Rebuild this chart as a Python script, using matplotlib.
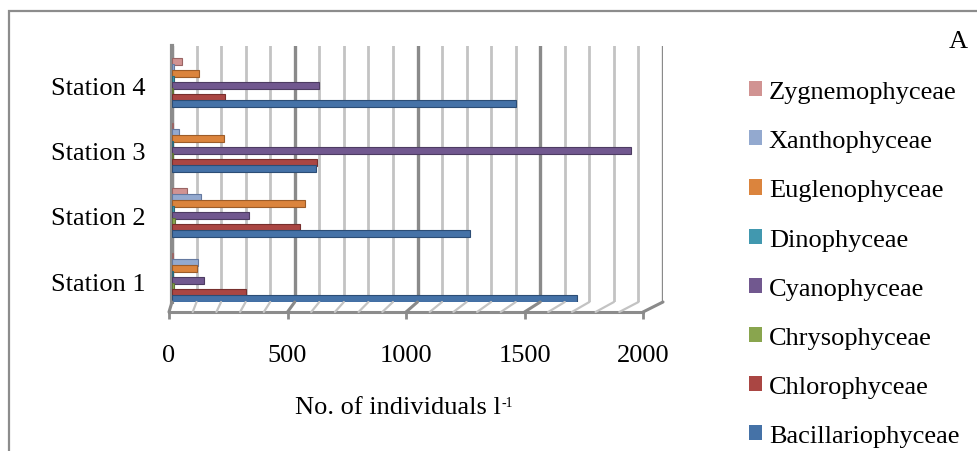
import numpy as np
import matplotlib
matplotlib.use('Agg')
import matplotlib.pyplot as plt
from matplotlib.patches import Patch, Rectangle, ConnectionPatch

plt.rcParams['font.family'] = ['Liberation Serif', 'DejaVu Serif']

stations = ['Station 1', 'Station 2', 'Station 3', 'Station 4']
groups = ['Bacillariophyceae', 'Chlorophyceae', 'Chrysophyceae', 'Cyanophyceae',
          'Dinophyceae', 'Euglenophyceae', 'Xanthophyceae', 'Zygnemophyceae']
colors = ['#4572A7', '#AA4643', '#89A54E', '#71588F',
          '#4198AF', '#DB843D', '#93A9CF', '#D19392']
edges = ['#2c4d75', '#772f2d', '#5f7436', '#4d3c62', '#2c6a7a', '#9c5c29', '#6479a0', '#9a6564']

# values per group, Station 1..4 (No. of individuals per litre)
bacillario = [1650, 1215, 585, 1400]
chloro = [300, 520, 590, 215]
chryso = [8, 12, 5, 5]
cyano = [130, 315, 1870, 600]
dino = [5, 8, 5, 10]
eugleno = [100, 540, 210, 110]
xantho = [105, 120, 30, 10]
zygnemo = [3, 60, 5, 40]
values = [bacillario, chloro, chryso, cyano, dino, eugleno, xantho, zygnemo]

W, H = 977, 452
FS = 19
fig = plt.figure(figsize=(W / 100, H / 100), dpi=100)

# outer chart border
fig.patches.append(Rectangle((9 / W, -0.1), 1.2, 1 - 12 / H + 0.1, transform=fig.transFigure,
                             fill=False, edgecolor='#8c8c8c', lw=1.6))

# back wall (bars + gridlines)
ax = fig.add_axes([172 / W, (H - 303) / H, 491 / W, 256 / H])
ax.set_xlim(0, 2000)
ax.set_ylim(-0.323, 3.615)
ax.set_xticks(np.arange(0, 2001, 500))
ax.set_xticks(np.arange(0, 2001, 100), minor=True)
ax.grid(True, which='minor', axis='x', color='#c3c3c3', lw=2.0, zorder=0)
ax.grid(True, which='major', axis='x', color='#8a8a8a', lw=2.4, zorder=0)
ax.tick_params(axis='x', which='both', length=0, labelbottom=False)
ax.set_yticks(range(len(stations)))
ax.set_yticklabels(stations, fontsize=FS)
ax.tick_params(axis='y', length=0, pad=19)
for s in ['top', 'right', 'bottom']:
    ax.spines[s].set_visible(False)
ax.spines['left'].set_color('#8c8c8c')
ax.spines['left'].set_linewidth(3)
ax.set_axisbelow(True)

pitch = 0.092
bh = 0.12
y0 = np.arange(len(stations)) + 0.054
for j, (g, vals) in enumerate(zip(groups, values)):
    ax.barh(y0 + (j - 3.5) * pitch, vals, height=bh, color=colors[j],
            edgecolor=edges[j], lw=0.8, zorder=10 - j)

# front floor edge with tick labels
ax2 = fig.add_axes([169 / W, (H - 313) / H, 474 / W, 0.001])
ax2.set_xlim(0, 2000)
ax2.set_xticks(np.arange(0, 2001, 500))
ax2.tick_params(axis='x', length=5, width=2, color='#8c8c8c', labelsize=FS, pad=18)
ax2.set_yticks([])
ax2.patch.set_alpha(0)
for s in ['top', 'right', 'left']:
    ax2.spines[s].set_visible(False)
ax2.spines['bottom'].set_color('#8c8c8c')
ax2.spines['bottom'].set_linewidth(2.2)

# floor lines from front edge back to the wall
for v in np.arange(0, 2001, 100):
    major = v % 500 == 0
    cp = ConnectionPatch(xyA=(v, 0), coordsA=ax2.transData,
                         xyB=(v, -0.323), coordsB=ax.transData,
                         color='#8a8a8a' if major or v == 2000 else '#c3c3c3',
                         lw=2.2 if major else 1.6)
    fig.add_artist(cp)

xl = fig.text(398 / W, 1 - 408 / H, 'No. of individuals l', fontsize=FS,
              ha='center', va='center')
ax.annotate('-1', xy=(1, 1), xycoords=xl, xytext=(0.5, 0), textcoords='offset points',
            fontsize=FS * 0.52, ha='left', va='top', annotation_clip=False)
fig.text(958 / W, 1 - 42 / H, 'A', fontsize=FS, ha='center', va='center')

handles = [Patch(facecolor=c, edgecolor='none') for c in colors][::-1]
fig.legend(handles, groups[::-1], loc='upper left', bbox_to_anchor=(749 / W, 1 - 82 / H),
           frameon=False, fontsize=FS, handlelength=0.5, handleheight=0.5,
           handletextpad=0.25, labelspacing=1.03, borderaxespad=0, borderpad=0)

fig.savefig('out.png', dpi=100)
